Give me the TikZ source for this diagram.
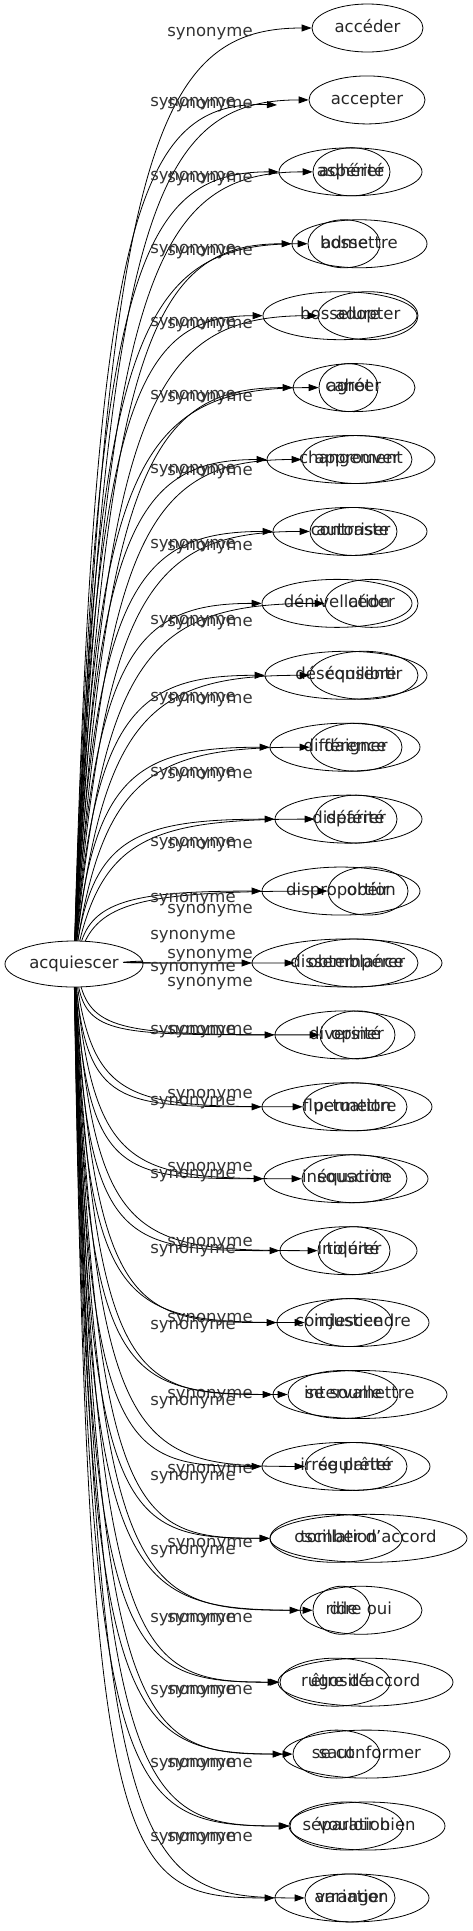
\documentclass[tikz,border=0pt]{standalone}
\usepackage{fontspec}
\setmainfont{DejaVu Sans}
\usetikzlibrary{shapes.geometric, arrows.meta}

\tikzset{
  mot/.style = {draw, ellipse, minimum height=48pt, inner sep=0pt, text height=12pt, text depth=3.5pt, text=black!85, font=\fontsize{16.5}{18}\selectfont},
  syn/.style = {-{Triangle[length=10pt, width=7pt]}},
  lab/.style = {inner sep=0pt, text height=12pt, text depth=3.5pt, text=black!80, font=\fontsize{16.5}{18}\selectfont}
}

\begin{document}
\begin{tikzpicture}[x=1pt, y=-1pt, line width=0.8pt]
	\useasboundingbox (0,0) rectangle (472,1931);
	\node [mot, minimum width=138pt, minimum height=46pt] (src) at (74,964) {\makebox[0pt]{acquiescer}};
	\foreach \i/\c/\w/\word in {1/367.5/111/accéder, 2/367/116/accepter, 3/351.5/77/adhérer, 4/359.5/135/admettre, 5/368/100/adopter, 6/354/122/agréer, 7/357/110/approuver, 8/353.5/87/autoriser, 9/371.5/93/céder, 10/364/108/consentir, 11/356/92/daigner, 12/356/82/déférer, 13/368/80/obéir, 14/356.5/123/obtempérer, 15/357.5/75/opiner, 16/355/104/permettre, 17/354.5/105/souscrire, 18/354/72/tolérer, 19/353/152/condescendre, 20/360/174/se soumettre, 21/356/102/se prêter, 22/368.5/197/tomber d'accord, 23/361/122/dire oui, 24/365.5/175/être d'accord, 25/366.5/167/se conformer, 26/367/156/vouloir bien, 27/350/90/arranger}
	{
		\pgfmathsetmacro\y{28+(\i-1)*71.92}
		\node [mot, minimum width=\w pt] (a\i) at (\c,\y) {\makebox[0pt]{\word}};
	}
	\coordinate (b2) at (277,105);
	\foreach \i/\c/\w/\word in {3/350.5/143/aspérité, 4/344/72/bosse, 5/340/154/bosselure, 6/348.5/59/cahot, 7/351/168/changement, 8/350/154/contraste, 9/337/150/dénivellation, 10/346/162/déséquilibre, 11/345/150/différence, 12/348.5/147/disparité, 13/341/158/disproportion, 14/347/190/dissemblance, 15/345/140/diversité, 16/347/170/fluctuation, 17/346/164/inéquation, 18/348.5/137/iniquité, 19/348.5/87/injustice, 20/343/110/intervalle, 21/346/168/irrégularité, 22/336/132/oscillation, 23/341.5/57/ride, 24/335/110/rugosité, 25/336.5/87/saut, 26/346.5/113/séparation, 27/352/154/variation}
	{
		\pgfmathsetmacro\y{28+(\i-1)*71.92}
		\node [mot, minimum width=\w pt] (b\i) at (\c,\y) {\makebox[0pt]{\word}};
	}
	\foreach \i/\l in {1/32, 2/104, 3/178, 4/251, 5/324, 6/397, 7/471, 8/546, 9/622, 10/699, 11/774, 12/844, 13/909, 14/954, 15/982, 16/1030, 17/1094, 18/1167, 19/1242, 20/1318, 21/1394, 22/1469, 23/1543, 24/1618, 25/1690, 26/1763, 27/1837}
	{
		\pgfmathsetmacro\y{28+(\i-1)*71.92}
		\pgfmathsetmacro\k{\y<964 ? \y+0.13*(964-\y) : \y-0.03*(\y-964)}
		\pgfmathsetmacro\p{\y<964 ? 105 : 95}
		\pgfmathsetmacro\q{\y<964 ? 155 : 135}
		\draw [syn] (src) .. controls (\p,\k) and (\q,\y) .. (a\i);
		\node [lab] (sa\i) at (210,\l) {synonyme};
	}
	\foreach \i/\l in {2/102, 3/176, 4/249, 5/322, 6/395, 7/469, 8/544, 9/620, 10/697, 11/772, 12/842, 13/898, 14/935, 15/967, 16/1030, 17/1101, 18/1174, 19/1249, 20/1325, 21/1401, 22/1476, 23/1550, 24/1618, 25/1690, 26/1763, 27/1837}
	{
		\pgfmathsetmacro\y{28+(\i-1)*71.92}
		\pgfmathsetmacro\k{\y<964 ? \y+0.13*(964-\y) : \y-0.03*(\y-964)}
		\pgfmathsetmacro\p{\y<964 ? 95 : 88}
		\pgfmathsetmacro\q{\y<964 ? 138 : 120}
		\draw [syn] (src) .. controls (\p,\k) and (\q,\y) .. (b\i);
		\node [lab] (sb\i) at (193,\l) {synonyme};
	}
\end{tikzpicture}
\end{document}
